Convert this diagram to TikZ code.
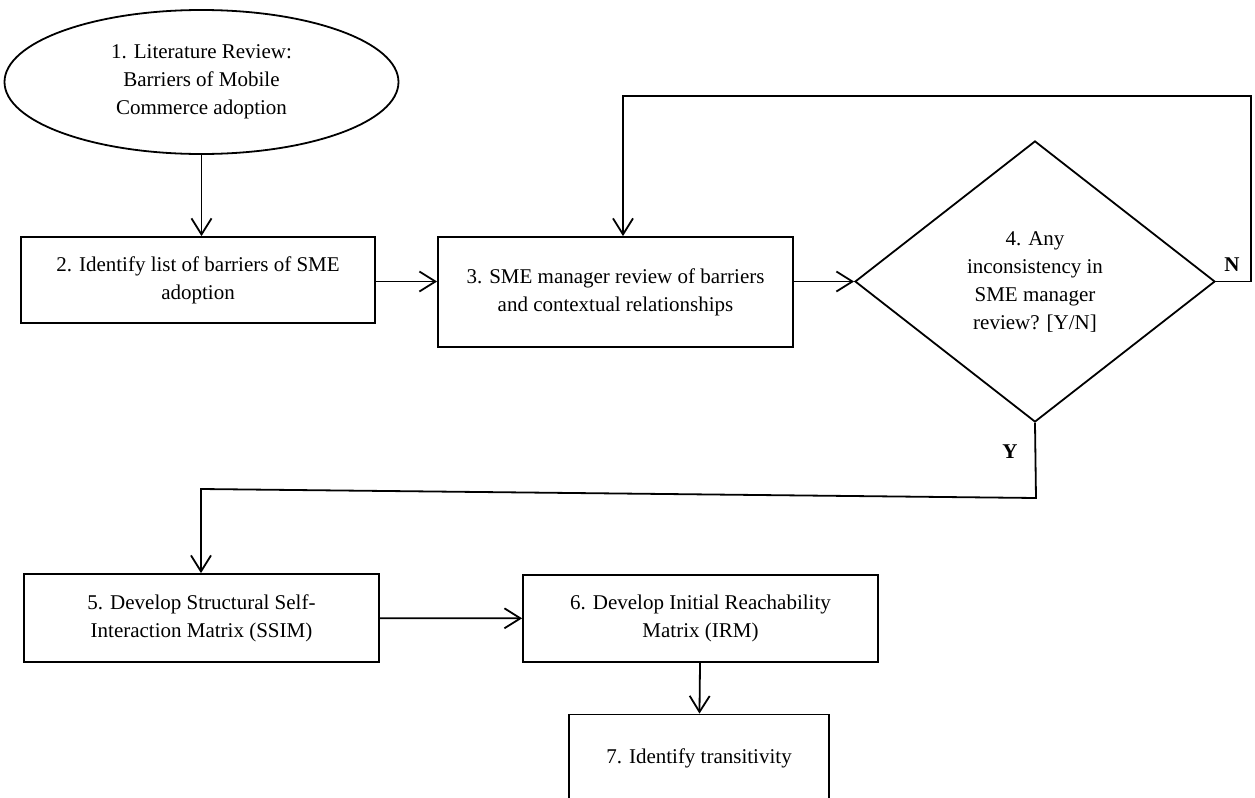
\documentclass[tikz,border=0pt]{standalone}
\usepackage{fontspec}
\setmainfont{Liberation Serif}
\usetikzlibrary{shapes.geometric,arrows.meta,positioning,calc}

\begin{document}
\begin{tikzpicture}[
    x=0.5pt, y=-0.5pt,
    txt/.style={font=\fontsize{10.5}{14}\selectfont, align=center, inner sep=0pt},
    block/.style={txt, rectangle, draw, line width=0.9pt},
    start/.style={txt, ellipse, draw, line width=0.9pt, minimum width=197pt, minimum height=72pt},
    decision/.style={txt, diamond, draw, line width=0.9pt, minimum width=180pt, minimum height=140.5pt},
    arrow/.style={-{Straight Barb[length=8pt,width=10pt]}, line width=0.9pt},
    answer/.style={font=\fontsize{10.5}{14}\selectfont\bfseries, inner sep=0pt}
]
\useasboundingbox (0,0) rectangle (1255,798);

% Nodes
\node[start] (lit) at (201.5,82) {1. Literature Review:\\Barriers of Mobile\\Commerce adoption};
\node[block, minimum width=177pt, minimum height=43pt] (sme) at (198,280) {2. Identify list of barriers of SME\\adoption};
\node[block, minimum width=177.5pt, minimum height=55pt] (review) at (615.5,292) {3. SME manager review of barriers\\and contextual relationships};
\node[decision] (dec) at (1035,281.5) {4. Any\\inconsistency in\\SME manager\\review? [Y/N]};
\node[block, minimum width=177.5pt, minimum height=44pt] (ssim) at (201.5,618) {5. Develop Structural Self-\\Interaction Matrix (SSIM)};
\node[block, minimum width=177.5pt, minimum height=43.5pt] (irm) at (700.5,618.5) {6. Develop Initial Reachability\\Matrix (IRM)};
\node[block, minimum width=130pt, minimum height=43.5pt] (trans) at (699,758) {7. Identify transitivity};

% Bends
\coordinate (nbend) at (623,96);
\coordinate (ybend1) at (1036,498);
\coordinate (ybend2) at (201,489);

% Arrows
\draw[arrow] (lit.south) -- (lit.south |- sme.north);
\draw[arrow] (sme.east |- dec) -- (review.west |- dec);
\draw[arrow] (review.east |- dec) -- (dec.west);
\draw[arrow] (dec.east) -- ++(35,0) |- (nbend) -- (nbend |- review.north);
\draw[arrow] (dec.south) -- (ybend1) -- (ybend2) -- (ssim.north -| ybend2);
\draw[arrow] (ssim) -- (irm);
\draw[arrow] (irm) -- (trans);

% Labels
\node[answer] (nlab) at (1232,265) {N};
\node[answer] (ylab) at (1010,452) {Y};

\end{tikzpicture}
\end{document}
